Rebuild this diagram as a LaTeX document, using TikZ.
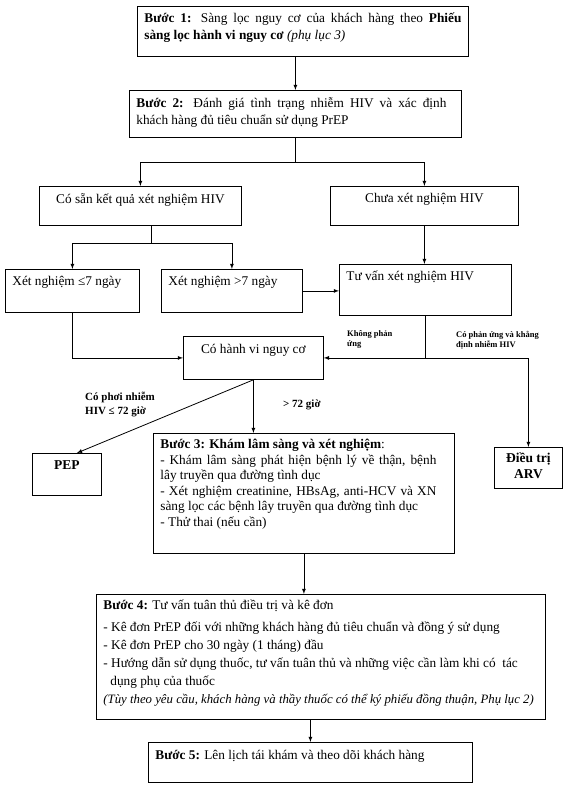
\documentclass[tikz,border=0pt]{standalone}
\usepackage{fontspec}
\setmainfont{Liberation Serif}
\usepackage{tikz}
\usetikzlibrary{arrows, positioning}
\newcommand{\boxfont}{\fontsize{13.3}{17}\selectfont}

\begin{document}
\begin{tikzpicture}[x=1pt,y=-1pt,
  box/.style={draw,line width=0.8pt,anchor=north west,inner xsep=7pt,inner ysep=7pt},
  lbl/.style={anchor=north west,inner sep=0pt,align=left,font=\bfseries\fontsize{8.5}{10}\selectfont},
  lblbig/.style={anchor=north west,inner sep=0pt,align=left,font=\bfseries\fontsize{11}{14}\selectfont},
  line/.style={line width=0.8pt},
  arr/.style={-latex,line width=0.8pt}]
\useasboundingbox (0,0) rectangle (576,790);
\node[box,inner ysep=6pt] (b1) at (137,6) {\parbox[t][38pt][t]{317pt}{\boxfont\textbf{Bước 1:} Sàng lọc nguy cơ của khách hàng theo \textbf{Phiếu}\linebreak \textbf{sàng lọc hành vi nguy cơ} \textit{(phụ lục 3)}}};
\node[box,inner ysep=7pt] (b2) at (129,90) {\parbox[t][33pt][t]{310pt}{\boxfont\textbf{Bước 2:} Đánh giá tình trạng nhiễm HIV và xác định\linebreak khách hàng đủ tiêu chuẩn sử dụng PrEP}\hspace*{8pt}};
\node[box,inner ysep=7pt] (cosan) at (39,186) {\parbox[t][25pt][t]{188pt}{\boxfont\centering Có sẵn kết quả xét nghiệm HIV}};
\node[box,inner ysep=7pt] (chua) at (330,186) {\parbox[t][25pt][t]{174pt}{\boxfont\centering Chưa xét nghiệm HIV}};
\node[box,inner ysep=7pt] (le7) at (5,269) {\parbox[t][29pt][t]{120pt}{\boxfont Xét nghiệm ≤7 ngày}};
\node[box,inner ysep=7pt] (gt7) at (161,269) {\parbox[t][29pt][t]{127pt}{\boxfont Xét nghiệm >7 ngày}};
\node[box,inner ysep=6pt] (tuvan) at (339,264) {\parbox[t][39pt][t]{158pt}{\boxfont Tư vấn xét nghiệm HIV}};
\node[box,inner ysep=8pt] (hanhvi) at (183,336) {\parbox[t][27pt][t]{126pt}{\boxfont\centering Có hành vi nguy cơ}};
\node[box,inner ysep=7pt] (pep) at (32,453) {\parbox[t][28pt][t]{55pt}{\fontsize{13.5}{16}\selectfont\centering\textbf{PEP}}};
\node[box,inner ysep=5pt] (arv) at (494,447) {\parbox[t][31pt][t]{54pt}{\fontsize{13.5}{16}\selectfont\centering\textbf{Điều trị}\\\textbf{ARV}}};
\node[box,inner ysep=6pt] (b3) at (153,433) {\parbox[t][108pt][t]{276pt}{\fontsize{13.3}{15.5}\selectfont\textbf{Bước 3: Khám lâm sàng và xét nghiệm}:\\
- Khám lâm sàng phát hiện bệnh lý về thận, bệnh\linebreak lây truyền qua đường tình dục\\
- Xét nghiệm creatinine, HBsAg, anti-HCV và XN\linebreak sàng lọc các bệnh lây truyền qua đường tình dục\\
- Thử thai (nếu cần)}\hspace*{11pt}};
\node[box,inner ysep=5pt] (b4) at (96,594) {\parbox[t][115pt][t]{435pt}{\fontsize{13.3}{18}\selectfont\raggedright
\textbf{Bước 4:} Tư vấn tuân thủ điều trị và kê đơn\\[4pt]
- Kê đơn PrEP đối với những khách hàng đủ tiêu chuẩn và đồng ý sử dụng\\
- Kê đơn PrEP cho 30 ngày (1 tháng) đầu\\
- Hướng dẫn sử dụng thuốc, tư vấn tuân thủ và những việc cần làm khi có\ \ tác\\
\hspace*{7pt}dụng phụ của thuốc\\
\mbox{\fontsize{12.8}{18}\selectfont\textit{(Tùy theo yêu cầu, khách hàng và thầy thuốc có thể ký phiếu đồng thuận, Phụ lục 2)}}}};
\node[box,inner ysep=8pt] (b5) at (148,742) {\parbox[t][24pt][t]{310pt}{\boxfont\textbf{Bước 5:} Lên lịch tái khám và theo dõi khách hàng}};
\node[lbl] (nopr) at (347,330) {Không phản\\ứng};
\node[lbl] (yespr) at (456,331) {Có phản ứng và khẳng\\định nhiễm HIV};
\node[lblbig] (expo) at (85,392) {Có phơi nhiễm\\HIV ≤ 72 giờ};
\node[lblbig] (late) at (283,400) {> 72 giờ};
\draw[arr] (b1.south -| b2.north) -- (b2.north);
\coordinate (s2) at ([yshift=-25pt]b2.south);
\draw[line] (b2.south) -- (s2);
\draw[arr] (s2) -| (cosan.north);
\draw[arr] (s2) -| (chua.north);
\coordinate (s3) at ([xshift=11pt,yshift=-18pt]cosan.south);
\draw[line] (cosan.south -| s3) -- (s3);
\draw[arr] (s3) -| (le7.north);
\draw[arr] (s3) -| (gt7.north);
\draw[arr] (chua.south) -- (chua.south |- tuvan.north);
\draw[arr] (gt7.east) -- (gt7.east -| tuvan.west);
\draw[arr] (le7.south) |- (hanhvi.west);
\coordinate (s4) at (tuvan.south |- hanhvi.east);
\draw[line] (tuvan.south) -- (s4);
\draw[arr] (s4) -- (hanhvi.east);
\draw[arr] (s4) -| (arv.north);
\draw[arr] (hanhvi.south) -- ([xshift=10pt]pep.north);
\draw[arr] (hanhvi.south) -- (hanhvi.south |- b3.north);
\draw[arr] (b3.south) -- (b3.south |- b4.north);
\draw[arr] (b4.south -| b5.north) -- (b5.north);
\end{tikzpicture}
\end{document}
